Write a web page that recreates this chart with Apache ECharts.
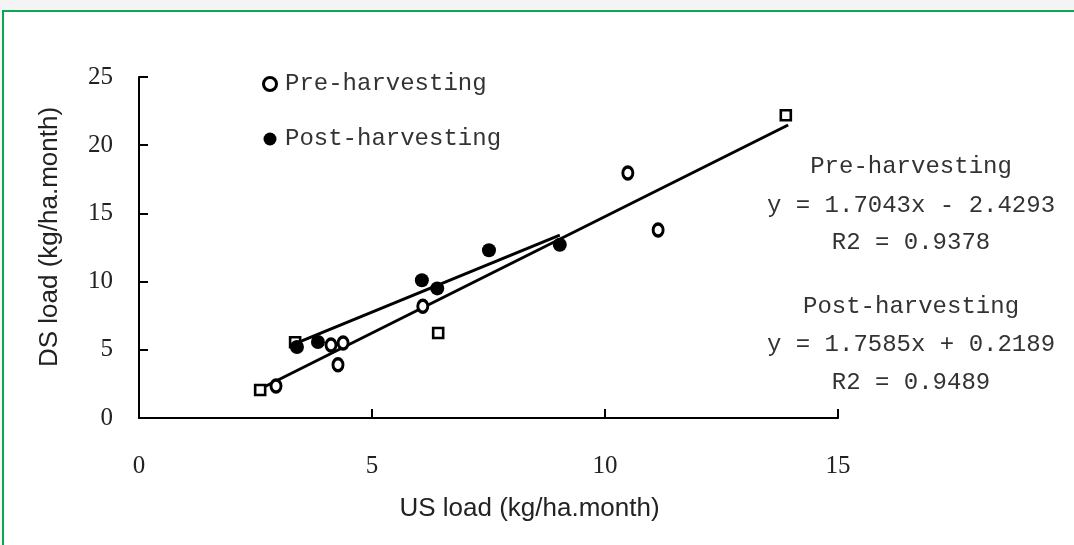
<!DOCTYPE html>
<html>
<head>
<meta charset="utf-8">
<script src="https://cdn.jsdelivr.net/npm/echarts@6/dist/echarts.min.js"></script>
<style>
  html, body { margin: 0; padding: 0; background: #f4f4f4; }
  #bg { position: absolute; left: 2px; top: 10px; width: 1072px; height: 535px; background: #fff;
        border-top: 2px solid #0ba64f; border-left: 2px solid #0ba64f; box-sizing: border-box; }
  #chart { position: absolute; left: 0; top: 0; width: 1074px; height: 545px; }
</style>
</head>
<body>
<div id="bg"></div>
<div id="chart"></div>
<script>
// Pre-harvesting (open circles)
const preX = [2.94, 4.12, 4.38, 4.27, 6.09, 10.49, 11.14];
const preY = [2.35, 5.35, 5.5, 3.9, 8.2, 17.96, 13.78];
// Pre-harvesting points drawn as open squares
const sqX = [2.6, 3.35, 6.42, 13.88];
const sqY = [2.05, 5.55, 6.23, 22.2];
// Post-harvesting (filled circles)
const postX = [3.39, 3.84, 6.07, 6.4, 7.51, 9.03];
const postY = [5.2, 5.57, 10.1, 9.5, 12.3, 12.7];
// Trend line endpoints as drawn
const preFitX = [2.64, 13.93];
const preFitY = [2.2, 21.48];
const postFitX = [3.39, 9.03];
const postFitY = [5.5, 13.4];
// Axis ticks
const xTicks = [0, 5, 10, 15];
const yTicks = [0, 5, 10, 15, 20, 25];
// Annotation text
const preLabel = ['Pre-harvesting', 'y = 1.7043x - 2.4293', 'R2 = 0.9378'];
const postLabel = ['Post-harvesting', 'y = 1.7585x + 0.2189', 'R2 = 0.9489'];

const zip = (a, b) => a.map((v, i) => [v, b[i]]);
const mono = 'Liberation Mono';
const chart = echarts.init(document.getElementById('chart'));

const annY = [168, 207, 244, 308, 346, 384];
const annText = preLabel.concat(postLabel);

chart.setOption({
  backgroundColor: 'transparent',
  animation: false,
  grid: { left: 139, right: 236, top: 77, bottom: 127 },
  legend: {
    data: [
      { name: 'Pre-harvesting', itemStyle: { color: '#fff', borderColor: '#000', borderWidth: 3 } },
      { name: 'Post-harvesting', itemStyle: { color: '#000' } }
    ],
    orient: 'vertical',
    left: 257, top: 67,
    itemWidth: 14, itemHeight: 13,
    itemGap: 31,
    textStyle: { fontFamily: mono, fontSize: 24, color: '#333', padding: [2, 0, 0, 3] }
  },
  xAxis: {
    type: 'value', min: xTicks[0], max: xTicks[xTicks.length - 1], interval: 5,
    name: 'US load (kg/ha.month)', nameLocation: 'middle', nameGap: 78,
    nameTextStyle: { fontFamily: 'Liberation Sans', fontSize: 26, color: '#222', padding: [0, 0, 0, 82] },
    axisLine: { lineStyle: { color: '#000', width: 2 } },
    axisTick: { inside: true, length: 9, lineStyle: { color: '#000', width: 2 } },
    axisLabel: { margin: 36, fontFamily: 'Liberation Serif', fontSize: 25, color: '#222' },
    splitLine: { show: false }
  },
  yAxis: {
    type: 'value', min: yTicks[0], max: yTicks[yTicks.length - 1], interval: 5,
    name: 'DS load (kg/ha.month)', nameLocation: 'middle', nameGap: 76, nameRotate: 90,
    nameTextStyle: { fontFamily: 'Liberation Sans', fontSize: 26, color: '#222', padding: [0, 0, 0, 21] },
    axisLine: { lineStyle: { color: '#000', width: 2 } },
    axisTick: { inside: true, length: 9, lineStyle: { color: '#000', width: 2 } },
    axisLabel: { margin: 26, fontFamily: 'Liberation Serif', fontSize: 25, color: '#222' },
    splitLine: { show: false }
  },
  graphic: annText.map((t, i) => ({
    type: 'text', left: 911 - (t.length * 14.4) / 2, top: annY[i] - 13,
    style: { text: t, fontFamily: mono, fontSize: 24, fill: '#333' }
  })),
  series: [
    { name: 'preFit', type: 'line', data: zip(preFitX, preFitY), symbol: 'none',
      lineStyle: { color: '#000', width: 3 }, z: 2 },
    { name: 'postFit', type: 'line', data: zip(postFitX, postFitY), symbol: 'none',
      lineStyle: { color: '#000', width: 3 }, z: 2 },
    { name: 'Pre-harvesting squares', type: 'scatter', data: zip(sqX, sqY), symbol: 'rect', symbolSize: 10,
      itemStyle: { color: '#fff', borderColor: '#000', borderWidth: 2.6, opacity: 1 }, z: 3 },
    { name: 'Pre-harvesting', type: 'scatter', data: zip(preX, preY), symbol: 'circle', symbolSize: [10, 12],
      itemStyle: { color: '#fff', borderColor: '#000', borderWidth: 3.2, opacity: 1 }, z: 4 },
    { name: 'Post-harvesting', type: 'scatter', data: zip(postX, postY), symbol: 'circle', symbolSize: 14,
      itemStyle: { color: '#000', opacity: 1 }, z: 5 }
  ]
});
</script>
</body>
</html>
